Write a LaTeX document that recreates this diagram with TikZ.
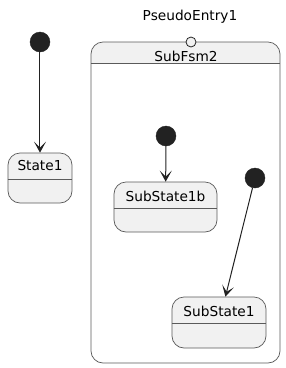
\documentclass[tikz,border=0pt]{standalone}
\usepackage{fontspec}
\setmainfont{DejaVu Sans}
\usetikzlibrary{arrows.meta}
\definecolor{stfill}{HTML}{F1F1F1}
\definecolor{stline}{HTML}{5A5A5A}
\definecolor{initc}{HTML}{222222}
\tikzset{
  statebox/.style={draw=stline, line width=0.7pt, fill=stfill, rounded corners=12pt, inner sep=0pt},
  lbl/.style={font=\fontsize{13.7}{16}\selectfont, inner sep=0pt, text=black},
  initnode/.style={circle, fill=initc, draw=initc, minimum size=20pt, inner sep=0pt},
  entrynode/.style={circle, fill=stfill, draw=initc, line width=0.8pt, minimum size=10pt, inner sep=0pt},
  divider/.style={draw=stline, line width=0.7pt},
  arr/.style={draw=initc, line width=1pt, -{Stealth[length=11pt,width=12pt,inset=6pt]}}
}
\begin{document}
\begin{tikzpicture}[x=1pt,y=-1pt]
\useasboundingbox (0,0) rectangle (286,368);
% composite state
\begin{scope}
  \clip[rounded corners=12pt] (91,42) rectangle (280,363);
  \fill[white] (91,42) rectangle (280,363);
  \fill[stfill] (91,42) rectangle (280,63);
\end{scope}
\node[draw=stline, line width=0.7pt, rounded corners=12pt, minimum width=189pt, minimum height=321pt, inner sep=0pt] (fsm) at (185.5,202.5) {};
\draw[divider] (fsm.west |- 0,63) -- (fsm.east |- 0,63);
\node[lbl] (fsmt) at (186,56) {SubFsm2};
\node[entrynode] (pe) at (191,42) {};
\node[lbl] (pet) at (190,17) {PseudoEntry1};
% State1
\node[initnode] (i1) at (40,42) {};
\node[statebox, minimum width=64pt, minimum height=50pt] (s1) at (40,178) {};
\node[lbl] (s1t) at (40,166) {State1};
\draw[divider] (s1.west |- 0,179) -- (s1.east |- 0,179);
\draw[arr] (i1) -- (s1);
% SubState1b
\node[initnode] (i2) at (166,136) {};
\node[statebox, minimum width=103pt, minimum height=50pt] (sb) at (165.5,207) {};
\node[lbl] (sbt) at (165.5,196) {SubState1b};
\draw[divider] (sb.west |- 0,208) -- (sb.east |- 0,208);
\draw[arr] (i2) -- (sb);
% SubState1
\node[initnode] (i3) at (255,178) {};
\node[statebox, minimum width=94pt, minimum height=51pt] (ss) at (219,322.5) {};
\node[lbl] (sst) at (219,311) {SubState1};
\draw[divider] (ss.west |- 0,323) -- (ss.east |- 0,323);
\draw[arr] (i3) -- (ss);
\end{tikzpicture}
\end{document}
